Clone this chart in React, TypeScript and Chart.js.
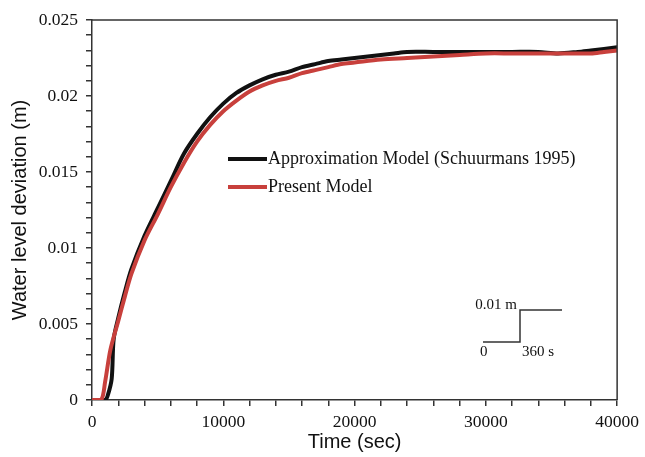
import React, { useEffect, useRef } from "react";
import { Chart, registerables } from "chart.js";

Chart.register(...registerables);

const approxTime = [0, 1000, 1200, 1500, 1650, 2000, 2500, 3000, 4000, 5000, 6000, 7000, 8000, 9000, 10000, 11000, 12000, 13000, 14000, 15000, 16000, 17000, 18000, 19000, 20000, 21000, 22000, 23000, 24000, 26000, 28000, 30000, 32000, 34000, 35500, 37000, 38000, 40000];
const approxLevel = [0, 0, 0.0003, 0.0014, 0.004, 0.0054, 0.0071, 0.0086, 0.0108, 0.0126, 0.0144, 0.0162, 0.0175, 0.0186, 0.0195, 0.0202, 0.0207, 0.0211, 0.0214, 0.0216, 0.0219, 0.0221, 0.0223, 0.0224, 0.0225, 0.0226, 0.0227, 0.0228, 0.0229, 0.0229, 0.0229, 0.0229, 0.0229, 0.0229, 0.0228, 0.0229, 0.023, 0.0232];

const presentTime = [0, 700, 1000, 1400, 2000, 2500, 3000, 4000, 5000, 6000, 7000, 8000, 9000, 10000, 11000, 12000, 13000, 14000, 15000, 16000, 17000, 18000, 19000, 20000, 22000, 24000, 26000, 28000, 30000, 32000, 34000, 36000, 38000, 39000, 40000];
const presentLevel = [0, 0, 0.0012, 0.0033, 0.0052, 0.0068, 0.0083, 0.0105, 0.0122, 0.014, 0.0156, 0.017, 0.0181, 0.019, 0.0197, 0.0203, 0.0207, 0.021, 0.0212, 0.0215, 0.0217, 0.0219, 0.0221, 0.0222, 0.0224, 0.0225, 0.0226, 0.0227, 0.0228, 0.0228, 0.0228, 0.0228, 0.0228, 0.0229, 0.023];

const seriesNames = ["Approximation Model (Schuurmans 1995)", "Present Model"];
const seriesColors = ["#111111", "#c8403c"];
const xMajorLabels = [0, 10000, 20000, 30000, 40000];
const yMajorLabels = ["0", "0.005", "0.01", "0.015", "0.02", "0.025"];
const insetLabels = ["0.01 m", "0", "360 s"];

const SERIF = "'Liberation Serif', 'Times New Roman', serif";
const SANS = "'Liberation Sans', Arial, sans-serif";
const AXIS = "#333333";

const decorPlugin = {
  id: "decor",
  afterDraw(chart: any) {
    const { ctx, chartArea } = chart;
    const { left, right, top, bottom } = chartArea;
    ctx.save();
    // frame top/right
    ctx.strokeStyle = AXIS;
    ctx.lineWidth = 1.5;
    ctx.beginPath();
    ctx.moveTo(left, top);
    ctx.lineTo(right, top);
    ctx.lineTo(right, bottom);
    ctx.stroke();

    // legend
    const lx0 = left + 136;
    const lx1 = left + 175;
    const ly = [top + 139, top + 167];
    ctx.font = `18px ${SERIF}`;
    ctx.textBaseline = "middle";
    ctx.textAlign = "left";
    for (let i = 0; i < 2; i++) {
      ctx.strokeStyle = seriesColors[i];
      ctx.lineWidth = 4;
      ctx.beginPath();
      ctx.moveTo(lx0, ly[i]);
      ctx.lineTo(lx1, ly[i]);
      ctx.stroke();
      ctx.fillStyle = "#111111";
      ctx.fillText(seriesNames[i], lx1 + 1, ly[i]);
    }

    // inset step
    const sx0 = left + 391;
    const sx1 = left + 428;
    const sx2 = left + 470;
    const sLow = top + 322;
    const sHigh = top + 290;
    ctx.strokeStyle = AXIS;
    ctx.lineWidth = 1.5;
    ctx.beginPath();
    ctx.moveTo(sx0, sLow);
    ctx.lineTo(sx1, sLow);
    ctx.lineTo(sx1, sHigh);
    ctx.lineTo(sx2, sHigh);
    ctx.stroke();
    ctx.fillStyle = "#111111";
    ctx.font = `15px ${SERIF}`;
    ctx.textAlign = "right";
    ctx.fillText(insetLabels[0], sx1 - 3, sHigh - 5);
    ctx.textAlign = "left";
    ctx.fillText(insetLabels[1], sx0 - 3, sLow + 10);
    ctx.fillText(insetLabels[2], sx1 + 2, sLow + 10);
    ctx.restore();
  },
};

export default function App() {
  const ref = useRef<HTMLCanvasElement>(null);
  useEffect(() => {
    if (!ref.current) return;
    const chart = new Chart(ref.current, {
      type: "line",
      data: {
        datasets: [
          {
            label: seriesNames[0],
            data: approxTime.map((t, i) => ({ x: t, y: approxLevel[i] })),
            borderColor: seriesColors[0],
            borderWidth: 4,
            pointRadius: 0,
            tension: 0.3,
            order: 1,
          },
          {
            label: seriesNames[1],
            data: presentTime.map((t, i) => ({ x: t, y: presentLevel[i] })),
            borderColor: seriesColors[1],
            borderWidth: 4,
            pointRadius: 0,
            tension: 0.3,
            order: 0,
          },
        ],
      },
      options: {
        responsive: false,
        animation: false,
        layout: { padding: { top: 20, right: 22, left: 0, bottom: 0 } },
        plugins: { legend: { display: false }, tooltip: { enabled: false } },
        scales: {
          x: {
            type: "linear",
            min: 0,
            max: 40000,
            afterFit: (s: any) => {
              s.height = 57;
            },
            border: { display: true, color: AXIS, width: 1.5 },
            grid: { drawOnChartArea: false, drawTicks: true, tickLength: 6, color: AXIS, lineWidth: 1.5 },
            ticks: {
              stepSize: 2000,
              autoSkip: false,
              maxRotation: 0,
              padding: 6,
              color: "#111111",
              font: { family: SERIF, size: 17.5 },
              callback: (v: any) => {
                const n = Number(v);
                return xMajorLabels.includes(n) ? String(n) : "";
              },
            },
            title: {
              display: true,
              text: "Time (sec)",
              color: "#111111",
              font: { family: SANS, size: 20 },
              padding: { top: 0, bottom: 3 },
            },
          },
          y: {
            type: "linear",
            min: 0,
            max: 0.025,
            afterFit: (s: any) => {
              s.width = 92;
            },
            border: { display: true, color: AXIS, width: 1.5 },
            grid: { drawOnChartArea: false, drawTicks: true, tickLength: 6, color: AXIS, lineWidth: 1.5 },
            ticks: {
              stepSize: 0.001,
              autoSkip: false,
              padding: 8,
              color: "#111111",
              font: { family: SERIF, size: 17.5 },
              callback: (v: any) => {
                const k = Math.round(Number(v) * 1000);
                return k % 5 === 0 ? yMajorLabels[k / 5] : "";
              },
            },
            title: {
              display: true,
              text: "Water level deviation (m)",
              color: "#111111",
              font: { family: SANS, size: 20 },
              padding: { top: 8, bottom: 0 },
            },
          },
        },
      },
      plugins: [decorPlugin],
    });
    return () => chart.destroy();
  }, []);
  return (
    <div style={{ position: "absolute", left: 0, top: 0, width: 645, height: 457, background: "#ffffff" }}>
      <canvas ref={ref} width={645} height={457} />
    </div>
  );
}
